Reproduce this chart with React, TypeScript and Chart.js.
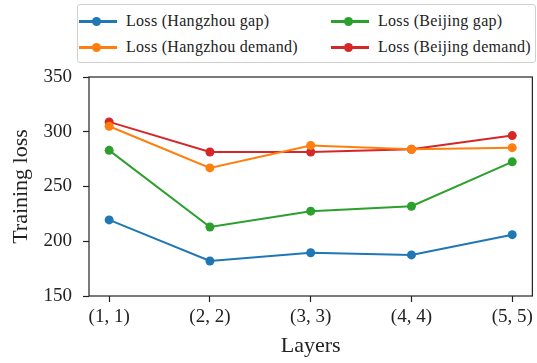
import React, { useEffect, useRef } from "react";
import { Chart, registerables } from "chart.js";

Chart.register(...registerables);

const categories = ["(1, 1)", "(2, 2)", "(3, 3)", "(4, 4)", "(5, 5)"];
const hangzhouGap = [219.5, 182, 189.5, 187.5, 206];
const hangzhouDemand = [305, 267, 287.5, 284, 285.5];
const beijingGap = [283, 213, 227.5, 232, 272.5];
const beijingDemand = [309, 281.5, 281.5, 284, 296.5];
const yTicks = [150, 200, 250, 300, 350];

const seriesNames = [
  "Loss (Hangzhou gap)",
  "Loss (Hangzhou demand)",
  "Loss (Beijing gap)",
  "Loss (Beijing demand)",
];
const seriesColors = ["#1f77b4", "#ff7f0e", "#2ca02c", "#d62728"];
const seriesValues = [hangzhouGap, hangzhouDemand, beijingGap, beijingDemand];

const FONT = "'Liberation Serif', 'DejaVu Serif', serif";

const frame = {
  id: "frame",
  afterDatasetsDraw(chart: any) {
    const { ctx, chartArea } = chart;
    ctx.save();
    ctx.strokeStyle = "#222";
    ctx.lineWidth = 1.2;
    ctx.strokeRect(chartArea.left, chartArea.top, chartArea.right - chartArea.left, chartArea.bottom - chartArea.top);
    ctx.restore();
  },
};

export default function App() {
  const ref = useRef<HTMLCanvasElement | null>(null);
  useEffect(() => {
    const c = ref.current!;
    const chart = new Chart(c, {
      type: "line",
      data: {
        datasets: seriesValues.map((vals, i) => ({
          label: seriesNames[i],
          data: vals.map((v, j) => ({ x: j, y: v })),
          borderColor: seriesColors[i],
          backgroundColor: seriesColors[i],
          borderWidth: 2,
          pointRadius: 4.5,
          pointHoverRadius: 4.5,
          pointBorderWidth: 0,
          tension: 0,
        })),
      },
      options: {
        animation: false,
        responsive: false,
        layout: { padding: { top: 77, right: 4, left: 0, bottom: 0 } },
        plugins: { legend: { display: false }, tooltip: { enabled: false } },
        scales: {
          x: {
            type: "linear",
            min: -0.2,
            max: 4.2,
            afterBuildTicks: (s: any) => {
              s.ticks = categories.map((_, i) => ({ value: i }));
            },
            ticks: {
              autoSkip: false,
              maxRotation: 0,
              color: "#222",
              font: { family: FONT, size: 19 },
              padding: 4,
              callback: (v: any) => categories[v] ?? "",
            },
            grid: { display: true, drawOnChartArea: false, tickLength: 6, tickColor: "#222", tickWidth: 1.2 },
            border: { display: false },
            title: { display: true, text: "Layers", color: "#222", font: { family: FONT, size: 22 }, padding: 4 },
            afterFit: (s: any) => {
              s.height = 67;
            },
          },
          y: {
            min: 150,
            max: 350,
            afterBuildTicks: (s: any) => {
              s.ticks = yTicks.map((v) => ({ value: v }));
            },
            ticks: { color: "#222", font: { family: FONT, size: 19 }, padding: 11 },
            grid: { display: true, drawOnChartArea: false, tickLength: 6, tickColor: "#222", tickWidth: 1.2 },
            border: { display: false },
            title: { display: true, text: "Training loss", color: "#222", font: { family: FONT, size: 22 }, padding: 8 },
            afterFit: (s: any) => {
              s.width = 89;
            },
          },
        },
      },
      plugins: [frame],
    } as any);
    return () => chart.destroy();
  }, []);

  const legendItem = (i: number, left: number, centerY: number) => (
    <div key={i} style={{ position: "absolute", left, top: centerY - 10, height: 20, display: "flex", alignItems: "center" }}>
      <div style={{ position: "relative", width: 38, height: 20, flex: "none" }}>
        <div style={{ position: "absolute", left: 0, top: 9, width: 38, height: 2.5, background: seriesColors[i] }} />
        <div style={{ position: "absolute", left: 13, top: 5.5, width: 9, height: 9, borderRadius: "50%", background: seriesColors[i] }} />
      </div>
      <span style={{ marginLeft: 9, fontFamily: FONT, fontSize: 16, letterSpacing: 0.3, color: "#222", whiteSpace: "nowrap" }}>{seriesNames[i]}</span>
    </div>
  );

  return (
    <div style={{ position: "fixed", left: 0, top: 0, width: 537, height: 363, background: "#fff" }}>
      <canvas ref={ref} width={537} height={363} style={{ position: "absolute", left: 0, top: 0 }} />
      <div
        style={{
          position: "absolute",
          left: 77,
          top: 4,
          width: 459,
          height: 59,
          border: "1px solid #d0d0d0",
          borderRadius: 3,
          boxSizing: "border-box",
          background: "#fff",
        }}
      />
      {legendItem(0, 79, 21)}
      {legendItem(1, 79, 47)}
      {legendItem(2, 331, 21)}
      {legendItem(3, 331, 47)}
    </div>
  );
}
